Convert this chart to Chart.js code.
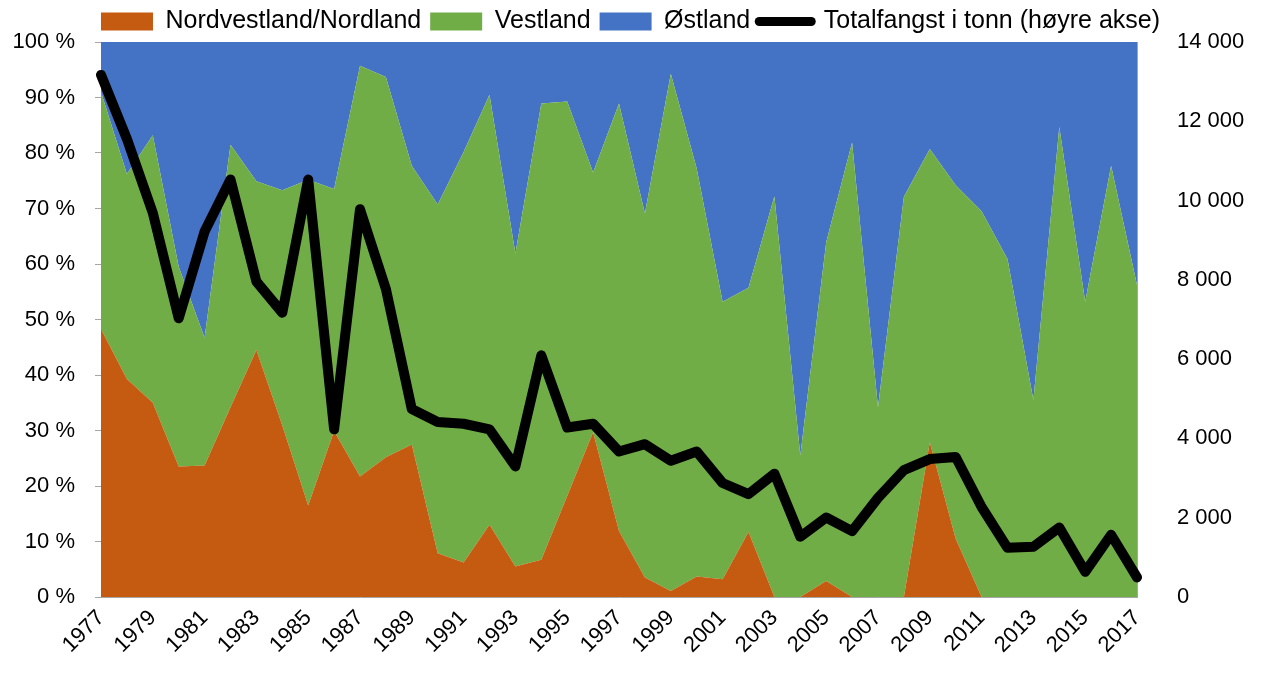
<!DOCTYPE html>
<html>
<head>
<meta charset="utf-8">
<script src="https://cdn.jsdelivr.net/npm/chart.js@4/dist/chart.umd.min.js"></script>
<style>
  html, body { margin: 0; padding: 0; background: #fff; }
  #wrap { width: 1261px; height: 673px; }
</style>
</head>
<body>
<div id="wrap"><canvas id="myChart" width="1261" height="673"></canvas></div>
<script>
var years = ['1977', '1978', '1979', '1980', '1981', '1982', '1983', '1984', '1985', '1986',
    '1987', '1988', '1989', '1990', '1991', '1992', '1993', '1994', '1995', '1996',
    '1997', '1998', '1999', '2000', '2001', '2002', '2003', '2004', '2005', '2006',
    '2007', '2008', '2009', '2010', '2011', '2012', '2013', '2014', '2015', '2016', '2017'];

// andel i prosent per landsdel
var nordvestland = [48.3, 39.3, 35, 23.5, 23.7, 34.2, 44.5, 30.9, 16.5, 29.9,
    21.7, 25.2, 27.5, 7.9, 6.2, 13, 5.5, 6.7, 18.2, 29.7,
    11.9, 3.5, 1.1, 3.7, 3.2, 11.7, 0, 0, 2.9, 0,
    0, 0, 27.9, 10.5, 0, 0, 0, 0, 0, 0, 0];
var vestland = [42.7, 36.9, 48.2, 36, 23, 47.3, 30.4, 42.4, 58.7, 43.6,
    74, 68.5, 50.2, 62.8, 74, 77.5, 56.4, 82.2, 71.1, 46.8,
    77, 65.6, 93.2, 73.5, 50, 44, 72.2, 25.5, 61, 81.9,
    34.2, 72.1, 52.8, 63.7, 69.5, 60.9, 35.5, 84.7, 53.2, 77.7, 56.2];
var ostland = [9, 23.8, 16.8, 40.5, 53.3, 18.5, 25.1, 26.7, 24.8, 26.5,
    4.3, 6.3, 22.3, 29.3, 19.8, 9.5, 38.1, 11.1, 10.7, 23.5,
    11.1, 30.9, 5.7, 22.8, 46.8, 44.3, 27.8, 74.5, 36.1, 18.1,
    65.8, 27.9, 19.3, 25.8, 30.5, 39.1, 64.5, 15.3, 46.8, 22.3, 43.8];

// totalfangst i tonn (høyre akse)
var totalfangst = [13170, 11555, 9690, 7030, 9220, 10530, 7960, 7170, 10530, 4230,
    9780, 7770, 4740, 4415, 4370, 4230, 3295, 6095, 4275, 4370,
    3670, 3855, 3435, 3670, 2875, 2595, 3110, 1520, 2005, 1660,
    2500, 3200, 3480, 3530, 2270, 1240, 1270, 1755, 635, 1570, 495];

var font = "'Liberation Sans', Arial, sans-serif";
var axisGrey = '#a6a6a6';

function thousands(v) {
    return String(v).replace(/\B(?=(\d{3})+(?!\d))/g, ' ');
}

// hold legend height fixed so the plot starts where it should
var legendHeight = {
    id: 'legendHeight',
    beforeLayout: function (chart) {
        var lg = chart.legend;
        if (lg && !lg._fixedHeight) {
            var fit = lg.fit;
            lg.fit = function () {
                fit.call(this);
                this.height = 42;
            };
            lg._fixedHeight = true;
        }
    }
};

var ctx = document.getElementById('myChart');

var myChart = new Chart(ctx, {
    type: 'line',
    data: {
        labels: years,
        datasets: [
            {
                label: 'Nordvestland/Nordland',
                data: nordvestland,
                backgroundColor: '#C55A11',
                borderWidth: 0,
                pointRadius: 0,
                fill: 'origin',
                yAxisID: 'y',
                order: 1
            },
            {
                label: 'Vestland',
                data: vestland,
                backgroundColor: '#70AD47',
                borderWidth: 0,
                pointRadius: 0,
                fill: '-1',
                yAxisID: 'y',
                order: 1
            },
            {
                label: 'Østland',
                data: ostland,
                backgroundColor: '#4472C4',
                borderWidth: 0,
                pointRadius: 0,
                fill: '-1',
                yAxisID: 'y',
                order: 1
            },
            {
                label: 'Totalfangst i tonn (høyre akse)',
                data: totalfangst,
                borderColor: '#000',
                backgroundColor: '#000',
                borderWidth: 10,
                borderJoinStyle: 'round',
                borderCapStyle: 'round',
                pointRadius: 0,
                fill: false,
                yAxisID: 'y1',
                order: 0
            }
        ]
    },
    plugins: [legendHeight],
    options: {
        responsive: false,
        animation: false,
        layout: { padding: 0, autoPadding: false },
        plugins: {
            tooltip: { enabled: false },
            legend: {
                position: 'top',
                labels: {
                    usePointStyle: true,
                    pointStyleWidth: 52,
                    boxHeight: 18,
                    padding: 9,
                    color: '#000',
                    font: { family: font, size: 25 },
                    generateLabels: function (chart) {
                        return chart.data.datasets.map(function (ds, i) {
                            var isLine = ds.yAxisID === 'y1';
                            return {
                                text: ds.label,
                                datasetIndex: i,
                                fillStyle: isLine ? '#000' : ds.backgroundColor,
                                strokeStyle: isLine ? '#000' : ds.backgroundColor,
                                lineWidth: isLine ? 9 : 0,
                                lineCap: 'round',
                                pointStyle: isLine ? 'line' : 'rect',
                                fontColor: '#000',
                                hidden: false
                            };
                        });
                    }
                }
            }
        },
        scales: {
            x: {
                offset: false,
                grid: { display: false },
                border: { display: true, color: axisGrey, width: 1 },
                ticks: {
                    autoSkip: false,
                    maxRotation: 45,
                    minRotation: 45,
                    color: '#000',
                    padding: 0,
                    font: { family: font, size: 22 },
                    callback: function (val, i) {
                        return i % 2 === 0 ? this.getLabelForValue(val) : '';
                    }
                },
                afterFit: function (scale) { scale.height = 76; }
            },
            y: {
                stacked: true,
                min: 0,
                max: 100,
                position: 'left',
                grid: {
                    display: true,
                    drawOnChartArea: false,
                    drawTicks: true,
                    tickLength: 6,
                    color: axisGrey
                },
                border: { display: true, color: axisGrey, width: 1 },
                ticks: {
                    stepSize: 10,
                    color: '#000',
                    padding: 20,
                    font: { family: font, size: 22 },
                    callback: function (v) { return v + ' %'; }
                },
                afterFit: function (scale) { scale.width = 101; }
            },
            y1: {
                stacked: false,
                min: 0,
                max: 14000,
                position: 'right',
                // invisible tick marks push the labels out without adding top padding
                grid: {
                    display: true,
                    drawOnChartArea: false,
                    drawTicks: true,
                    tickLength: 37,
                    color: 'rgba(0,0,0,0)'
                },
                border: { display: true, color: axisGrey, width: 1 },
                ticks: {
                    stepSize: 2000,
                    color: '#000',
                    padding: 3,
                    font: { family: font, size: 22 },
                    callback: function (v) { return thousands(v); }
                },
                afterFit: function (scale) { scale.width = 124; }
            }
        }
    }
});
</script>
</body>
</html>
